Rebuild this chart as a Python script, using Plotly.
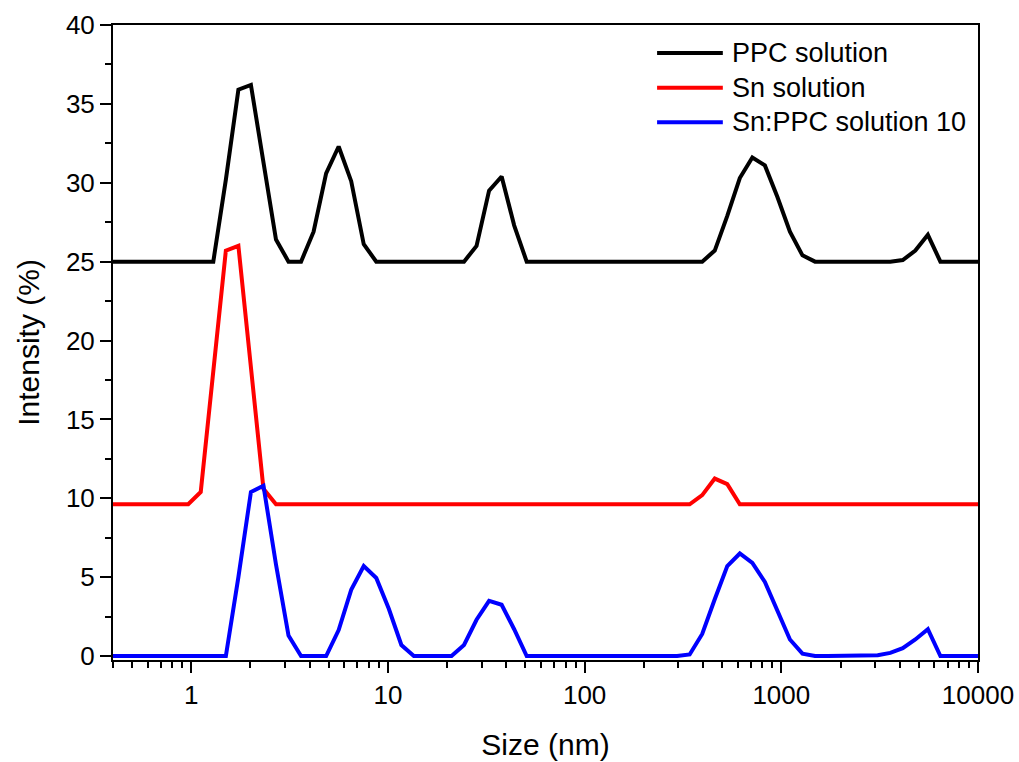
import plotly.graph_objects as go

# Size classes (nm)
sizes = [0.4, 0.4632, 0.5365, 0.6213, 0.7195, 0.8332, 0.9649, 1.117, 1.294, 1.499,
         1.736, 2.01, 2.328, 2.696, 3.122, 3.615, 4.187, 4.849, 5.615, 6.503,
         7.531, 8.721, 10.1, 11.7, 13.54, 15.69, 18.17, 21.04, 24.36, 28.21,
         32.67, 37.84, 43.82, 50.75, 58.77, 68.06, 78.82, 91.28, 105.7, 122.4,
         141.8, 164.2, 190.1, 220.2, 255.0, 295.3, 342.0, 396.1, 458.7, 531.2,
         615.1, 712.4, 825.0, 955.4, 1106, 1281, 1484, 1718, 1990, 2305,
         2669, 3091, 3580, 4145, 4801, 5560, 6439, 7456, 8635, 10000]

ppc = [25, 25, 25, 25, 25, 25, 25, 25, 25, 30.2,
       35.9, 36.2, 31.3, 26.4, 25.0, 25.0, 26.9, 30.6, 32.3, 30.1,
       26.1, 25, 25, 25, 25, 25, 25, 25, 25, 26.0,
       29.5, 30.4, 27.3, 25, 25, 25, 25, 25, 25, 25,
       25, 25, 25, 25, 25, 25, 25, 25, 25.7, 27.9,
       30.3, 31.6, 31.1, 29.1, 26.9, 25.4, 25, 25, 25, 25,
       25, 25, 25, 25.1, 25.7, 26.7, 25, 25, 25, 25]

sn = [9.62, 9.62, 9.62, 9.62, 9.62, 9.62, 9.62, 10.4, 18.0, 25.7,
      26.0, 18.6, 10.6, 9.62, 9.62, 9.62, 9.62, 9.62, 9.62, 9.62,
      9.62, 9.62, 9.62, 9.62, 9.62, 9.62, 9.62, 9.62, 9.62, 9.62,
      9.62, 9.62, 9.62, 9.62, 9.62, 9.62, 9.62, 9.62, 9.62, 9.62,
      9.62, 9.62, 9.62, 9.62, 9.62, 9.62, 9.62, 10.2, 11.25, 10.9,
      9.62, 9.62, 9.62, 9.62, 9.62, 9.62, 9.62, 9.62, 9.62, 9.62,
      9.62, 9.62, 9.62, 9.62, 9.62, 9.62, 9.62, 9.62, 9.62, 9.62]

snppc = [0, 0, 0, 0, 0, 0, 0, 0, 0, 0,
         5.0, 10.4, 10.8, 5.8, 1.3, 0, 0, 0, 1.65, 4.2,
         5.7, 4.95, 3.0, 0.7, 0, 0, 0, 0, 0.7, 2.3,
         3.5, 3.25, 1.7, 0, 0, 0, 0, 0, 0, 0,
         0, 0, 0, 0, 0, 0, 0.1, 1.4, 3.6, 5.7,
         6.5, 5.9, 4.7, 2.9, 1.05, 0.15, 0, 0, 0, 0,
         0, 0.05, 0.2, 0.5, 1.05, 1.7, 0, 0, 0, 0]

names = ["PPC solution", "Sn solution", "Sn:PPC solution 10"]
colors = ["#000000", "#ff0000", "#0000ff"]
series = [ppc, sn, snppc]

x_tickvals = [1, 10, 100, 1000, 10000]
x_ticktext = ["1", "10", "100", "1000", "10000"]
x_minor = [m * 10 ** e for e in range(-1, 4) for m in range(2, 10) if m * 10 ** e >= 0.4]

FONT = "Liberation Sans, Arial, sans-serif"
LW = 4

fig = go.Figure()
for name, col, ys in zip(names, colors, series):
    fig.add_trace(go.Scatter(x=sizes, y=ys, mode="lines", name=name,
                             line=dict(color=col, width=LW), showlegend=False))

# Legend drawn as sample lines + text labels (paper coordinates)
leg_y = [0.956, 0.901, 0.847]
leg_x0, leg_x1, leg_tx = 0.629, 0.705, 0.713
shapes = []
annotations = []
for name, col, ly in zip(names, colors, leg_y):
    shapes.append(dict(type="line", xref="paper", yref="paper",
                       x0=leg_x0, x1=leg_x1, y0=ly, y1=ly,
                       line=dict(color=col, width=LW)))
    annotations.append(dict(xref="paper", yref="paper", x=leg_tx, y=ly,
                            xanchor="left", yanchor="middle", showarrow=False,
                            text=name, font=dict(family=FONT, size=27, color="black")))

fig.update_layout(
    width=1019, height=762,
    margin=dict(l=113, r=41, t=25, b=102),
    paper_bgcolor="white", plot_bgcolor="white",
    font=dict(family=FONT, color="black", size=26),
    showlegend=False,
    shapes=shapes,
    annotations=annotations,
)
fig.update_xaxes(
    type="log", range=[-0.398, 4.0], automargin=False,
    tickmode="array", tickvals=x_tickvals, ticktext=x_ticktext,
    ticks="outside", ticklen=11, tickwidth=2, tickcolor="black",
    showline=True, linewidth=2, linecolor="black", mirror=True,
    showgrid=False, zeroline=False,
    tickfont=dict(size=26),
    minor=dict(tickvals=x_minor, ticks="outside", ticklen=6, tickwidth=2,
               tickcolor="black", showgrid=False),
    title=dict(text="Size (nm)", font=dict(size=30), standoff=25),
)
fig.update_yaxes(
    range=[-0.25, 40], automargin=False,
    tickmode="linear", tick0=0, dtick=5,
    ticks="outside", ticklen=11, tickwidth=2, tickcolor="black",
    showline=True, linewidth=2, linecolor="black", mirror=True,
    showgrid=False, zeroline=False,
    tickfont=dict(size=26),
    minor=dict(dtick=2.5, ticks="outside", ticklen=6, tickwidth=2,
               tickcolor="black", showgrid=False),
    title=dict(text="Intensity (%)", font=dict(size=30), standoff=17),
)

fig.write_html("out.html")
